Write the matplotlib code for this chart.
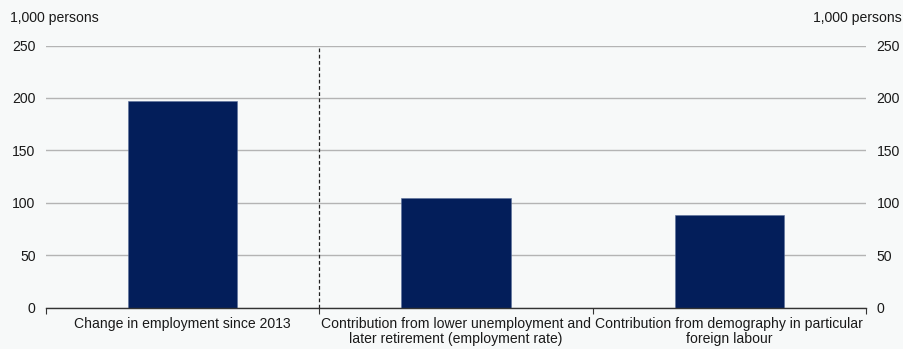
import matplotlib.pyplot as plt
import numpy as np

plt.rcParams["font.family"] = ["Liberation Sans", "DejaVu Sans"]

categories = [
    "Change in employment since 2013",
    "Contribution from lower unemployment and\nlater retirement (employment rate)",
    "Contribution from demography in particular\nforeign labour",
]
values = [197, 105, 88]
yticks = [0, 50, 100, 150, 200, 250]
unit = "1,000 persons"

BG = "#f7f9f9"
NAVY = "#031e5a"
FS = 10.1

fig = plt.figure(figsize=(9.04, 3.49), dpi=100, facecolor=BG)
ax = fig.add_axes([0.0509, 0.1186, 0.9071, 0.751], facecolor=BG)

x = np.arange(len(categories))
ax.bar(x, values, width=0.4, color=NAVY, edgecolor="#5a6f9a", linewidth=0.4, zorder=3)

ax.set_xlim(-0.5, len(categories) - 0.5)
ax.set_ylim(0, 250)
ax.set_yticks(yticks)
ax.yaxis.grid(True, color="#b4b4b4", linewidth=1.0, zorder=0)
ax.tick_params(axis="y", length=0, pad=7.5, labelsize=FS, colors="#1a1a1a",
               labelleft=True, labelright=True)

# category labels centred, tick marks on the boundaries between them
ax.set_xticks(x, categories, fontsize=FS, color="#1a1a1a", linespacing=1.1)
ax.tick_params(axis="x", length=0, pad=7)
ax.set_xticks(np.arange(len(categories) + 1) - 0.5, minor=True)
ax.tick_params(axis="x", which="minor", length=4, width=0.8, color="#333333", direction="out")

for side in ("top", "left", "right"):
    ax.spines[side].set_visible(False)
ax.spines["bottom"].set_color("#333333")
ax.spines["bottom"].set_linewidth(1.0)
ax.spines["bottom"].set_zorder(4)

# separator between the total and its components
ax.axvline(0.5, color="#222222", linestyle=(0, (3, 2)), linewidth=0.9, zorder=4)

fig.text(10 / 904, 1 - 18 / 349, unit, ha="left", va="center", fontsize=FS, color="#1a1a1a")
fig.text(902 / 904, 1 - 18 / 349, unit, ha="right", va="center", fontsize=FS, color="#1a1a1a")

fig.savefig("out.png", dpi=100, facecolor=BG)
